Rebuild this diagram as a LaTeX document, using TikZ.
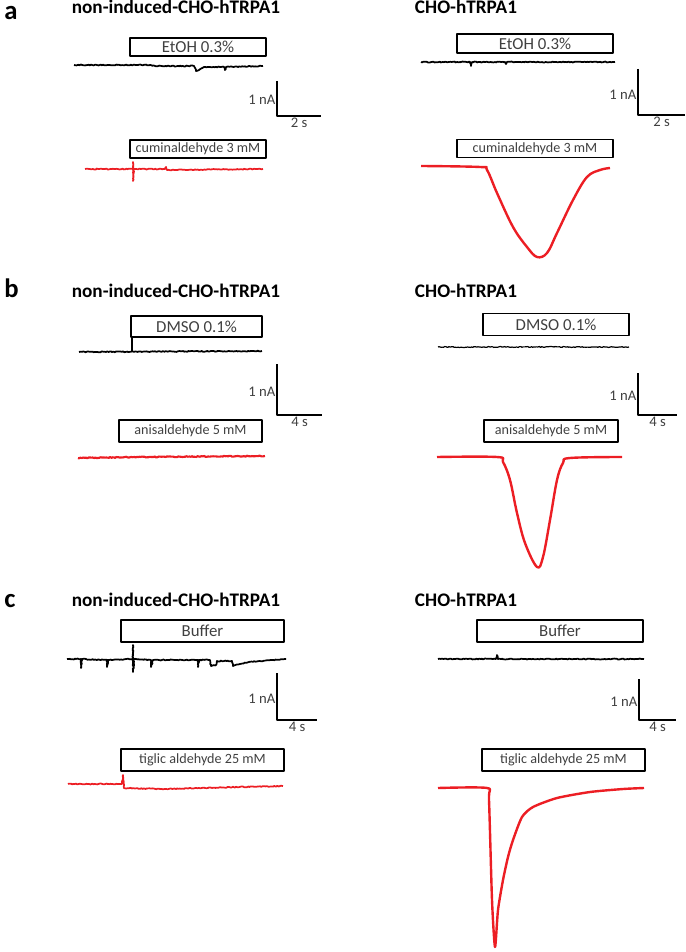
\documentclass[tikz,border=0pt]{standalone}
\usepackage{fontspec}
\setmainfont{Carlito}
\usetikzlibrary{positioning,calc,decorations.pathmorphing}
\definecolor{tracered}{RGB}{236,30,36}

\begin{document}
\begin{tikzpicture}[
  x=0.75pt, y=-0.75pt,
  line join=round,
  panel/.style={font=\fontsize{20}{22}\selectfont\bfseries, anchor=base west, inner sep=0pt},
  title/.style={font=\fontsize{14.4}{16}\selectfont\bfseries, anchor=base, inner sep=0pt},
  drug/.style={draw=black, line width=0.9pt, inner sep=0pt, text=black!75, font=\fontsize{12.6}{14}\selectfont},
  longdrug/.style={drug, font=\fontsize{10.6}{12}\selectfont},
  scalelbl/.style={text=black!75, font=\fontsize{11}{12}\selectfont, inner sep=1pt},
  trace/.style={line width=1.3pt, decorate, decoration={random steps, segment length=1pt, amplitude=0.35pt}},
  ctrl/.style={trace, black},
  resp/.style={trace, tracered, line width=1.3pt},
  respcurve/.style={tracered, line width=1.8pt}]

\useasboundingbox (0,0) rectangle (685,952);

% panel letters and titles
\node[panel] (la) at (4,20) {a};
\node[panel] (lb) at (4,297) {b};
\node[panel] (lc) at (4,607) {c};

\foreach \y/\p in {14/a,297/b,606/c} {
  \node[title] (tl\p) at (176,\y) {non-induced-CHO-hTRPA1};
  \node[title] (tr\p) at (466,\y) {CHO-hTRPA1};
}

% application bars
\node[drug, minimum width=102pt, minimum height=13.5pt] (etohL) at (198,47) {EtOH 0.3\%};
\node[drug, minimum width=117pt, minimum height=14.25pt] (etohR) at (535,43.5) {EtOH 0.3\%};
\node[longdrug, minimum width=102pt, minimum height=13.5pt] (cumL) at (198,149) {cuminaldehyde 3 mM};
\node[longdrug, minimum width=117pt, minimum height=13pt] (cumR) at (535,148.5) {cuminaldehyde 3 mM};

\node[drug, minimum width=98.25pt, minimum height=15.75pt] (dmsoL) at (196.5,326.5) {DMSO 0.1\%};
\node[drug, minimum width=109.5pt, minimum height=17pt] (dmsoR) at (556,324.5) {DMSO 0.1\%};
\node[longdrug, minimum width=107.25pt, minimum height=16.5pt] (anisL) at (190.5,431) {anisaldehyde 5 mM};
\node[longdrug, minimum width=100.5pt, minimum height=16.5pt] (anisR) at (551,431) {anisaldehyde 5 mM};

\node[drug, minimum width=122.25pt, minimum height=16.5pt] (bufL) at (202.5,631) {Buffer};
\node[drug, minimum width=124.5pt, minimum height=16.5pt] (bufR) at (560,631) {Buffer};
\node[longdrug, minimum width=122.25pt, minimum height=16.5pt] (tigL) at (202.5,760) {tiglic aldehyde 25 mM};
\node[longdrug, minimum width=122.25pt, minimum height=16.5pt] (tigR) at (563.5,760) {tiglic aldehyde 25 mM};

% scale bars
\foreach \x/\yt/\yb/\xe/\t [count=\i] in {277/81/116/321/2,638/69/115/685/2,
    277/364/415/322/4,638/373/415/677/4,277/673/720/317/4,639/679/720/676/4} {
  \coordinate (st\i) at (\x,\yt);
  \coordinate (sc\i) at (\x,\yb);
  \coordinate (se\i) at (\xe,\yb);
  \draw[line width=0.9pt] (st\i) -- (sc\i) -- (se\i);
  \node[scalelbl, anchor=east] (na\i) at ($(st\i)!0.55!(sc\i)$) {1 nA};
  \node[scalelbl, anchor=north] (ts\i) at ($(sc\i)!0.5!(se\i)$) {\t\ s};
}

% control traces
\draw[ctrl] (74,65) -- (150,65) -- (155,66) -- (194,66) -- (196,71) -- (199,70)
  -- (204,67) -- (224,67) -- (225,70) -- (226,67) -- (263,66);
\draw[ctrl] (421,62) -- (470,62) -- (471,66) -- (472,62) -- (505,62) -- (506,64)
  -- (507,62) -- (615,62);
\draw[ctrl] (79,352) -- (262,351);
\draw[line width=1pt] (132,337) -- (132,352);
\draw[ctrl, line width=0.9pt] (438,347) -- (629,347);
\draw[ctrl] (67,659) -- (81,659) -- (81,668) -- (82,659) -- (107,660) -- (107,667)
  -- (108,660) -- (133,659) -- (133,645) -- (133,672) -- (134,659) -- (151,660)
  -- (151,667) -- (153,660) -- (198,660) -- (198,667) -- (199,660) -- (210,660)
  -- (211,666) -- (216,665) -- (217,661) -- (232,661) -- (233,666) -- (240,664)
  -- (249,662) -- (286,659);
\draw[ctrl] (438,659) -- (496,659) -- (497,655) -- (498,659) -- (644,659);

% responses
\draw[resp] (85,169) -- (133,169) -- (133,162) -- (133,181)
  -- (134,169) -- (165,169) -- (166,167) -- (167,170) -- (263,169);
\draw[respcurve] plot[smooth, tension=0.6] coordinates {(421,166) (480,167) (487,170)
  (497,193) (513,227) (527,247) (537,257) (547,253) (557,233) (573,200)
  (587,177) (600,170) (610,168)};
\draw[resp, line width=1.6pt] (78,458) -- (140,457) -- (265,456);
\draw[respcurve] plot[smooth, tension=0.6] coordinates {(437,457) (497,457) (503,462)
  (510,480) (517,513) (525,543) (537,567) (543,557) (550,520) (557,480)
  (563,463) (570,458) (622,457)};
\draw[resp] (68,784) -- (122,784) -- (123,775) -- (124,788)
  -- (160,789) -- (283,786);
\draw[respcurve] plot[smooth, tension=0.4] coordinates {(438,788) (487,788) (489,800)
  (492,900) (495,947) (498,910) (503,880) (508,857) (513,840) (522,817)
  (533,807) (557,798) (590,792) (623,789) (644,788)};

\end{tikzpicture}
\end{document}
